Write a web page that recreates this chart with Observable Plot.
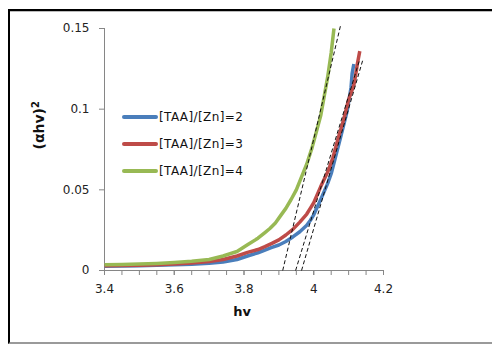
<!DOCTYPE html>
<html>
<head>
<meta charset="utf-8">
<script src="https://cdn.jsdelivr.net/npm/d3@7"></script>
<script src="https://cdn.jsdelivr.net/npm/@observablehq/plot@0.6"></script>
<style>
  html, body { margin: 0; padding: 0; background: #fff; width: 492px; height: 345px; overflow: hidden; }
  #frame { position: absolute; left: 8px; top: 9px; width: 520px; height: 331px;
           border-left: 2.5px solid #000; border-top: 2px solid #000; border-bottom: 2px solid #9a9a9a;
           box-shadow: inset 0 1px 0 #bbb; }
  #chart { position: absolute; left: 0; top: 0; }
  #legend { position: absolute; left: 122px; top: 103px; font-family: "DejaVu Sans", sans-serif; font-size: 12px; letter-spacing: 0.4px; color: #111; }
  #legend .row { height: 27px; display: flex; align-items: center; }
  #legend .sw { display: inline-block; width: 36px; height: 4px; margin-right: 1px; border-radius: 2px; }
</style>
</head>
<body>
<div id="frame"></div>
<div id="chart"></div>
<div id="legend"></div>
<script>
// ---- data ----
const seriesNames = ["[TAA]/[Zn]=2", "[TAA]/[Zn]=3", "[TAA]/[Zn]=4"];
const seriesColors = ["#4a7ebb", "#be4b48", "#98b954"];

const hv2 = [3.40,3.45,3.50,3.55,3.60,3.65,3.70,3.74,3.78,3.81,3.84,3.86,3.88,3.90,3.92,3.94,3.96,3.98,3.99,4.00,4.02,4.04,4.05,4.062,4.077,4.096,4.107,4.11,4.115];
const y2  = [0.0027,0.0028,0.0030,0.0032,0.0035,0.0039,0.0045,0.0053,0.0068,0.0090,0.0110,0.0127,0.0143,0.0158,0.0180,0.0208,0.0240,0.0280,0.0310,0.0345,0.0440,0.0540,0.0600,0.0700,0.0826,0.0990,0.1136,0.1220,0.1280];

const hv3 = [3.40,3.45,3.50,3.55,3.60,3.65,3.70,3.74,3.78,3.81,3.84,3.86,3.88,3.90,3.92,3.94,3.96,3.98,3.99,4.00,4.02,4.04,4.055,4.07,4.085,4.10,4.11,4.115,4.12,4.125,4.132];
const y3  = [0.0030,0.0031,0.0033,0.0036,0.0041,0.0046,0.0055,0.0068,0.0090,0.0112,0.0130,0.0148,0.0168,0.0190,0.0220,0.0255,0.0300,0.0350,0.0385,0.0420,0.0520,0.0610,0.0700,0.0820,0.0930,0.1060,0.1120,0.1150,0.1210,0.1280,0.1360];

const hv4 = [3.40,3.45,3.50,3.55,3.60,3.65,3.70,3.74,3.78,3.81,3.84,3.86,3.875,3.89,3.905,3.92,3.935,3.95,3.965,3.98,3.995,4.01,4.02,4.03,4.04,4.05,4.058];
const y4  = [0.0035,0.0037,0.0040,0.0044,0.0050,0.0057,0.0068,0.0090,0.0118,0.0160,0.0200,0.0235,0.0262,0.0295,0.0340,0.0385,0.0440,0.0500,0.0580,0.0660,0.0760,0.0880,0.0960,0.1080,0.1200,0.1350,0.1500];

// tangent (extrapolation) lines
const tangentX1 = [3.965, 3.948, 3.911];
const tangentX2 = [4.140, 4.132, 4.077];
const tangentY1 = [0, 0, 0];
const tangentY2 = [0.130, 0.131, 0.152];

const xMajorTicks = [3.4, 3.6, 3.8, 4.0, 4.2];
const xMinorTicks = [3.4,3.45,3.5,3.55,3.6,3.65,3.7,3.75,3.8,3.85,3.9,3.95,4.0,4.05,4.1,4.15,4.2];
const yTicks = [0, 0.05, 0.1, 0.15];
const yTickLabels = ["0", "0.05", "0.1", "0.15"];

// ---- build tables ----
const hvs = [hv2, hv3, hv4];
const ys = [y2, y3, y4];
const curves = [];
seriesNames.forEach((name, i) => hvs[i].forEach((h, j) => curves.push({series: name, hv: h, y: ys[i][j]})));
const tangents = tangentX1.map((x, i) => ({x1: x, y1: tangentY1[i], x2: tangentX2[i], y2: tangentY2[i]}));

const font = "DejaVu Sans, sans-serif";
const axisGray = "#868686";

const chart = Plot.plot({
  width: 492,
  height: 345,
  marginLeft: 104,
  marginRight: 109,
  marginTop: 28,
  marginBottom: 75,
  style: {fontFamily: font, fontSize: "12px", color: "#222", background: "transparent", overflow: "visible"},
  x: {domain: [3.4, 4.2]},
  y: {domain: [0, 0.15]},
  color: {domain: seriesNames, range: seriesColors},
  marks: [
    Plot.ruleY([0], {stroke: axisGray, strokeWidth: 1}),
    Plot.ruleX([3.4], {stroke: axisGray, strokeWidth: 1}),
    Plot.axisX(xMinorTicks, {tickSize: 5, tickFormat: () => "", stroke: axisGray, label: null}),
    Plot.axisX(xMajorTicks, {tickSize: 5, tickPadding: 9, tickFormat: d => String(+d.toFixed(1)), stroke: axisGray, fill: "#222", label: null, fontSize: 12, letterSpacing: 0.4}),
    Plot.axisY(yTicks, {tickSize: 5, tickPadding: 10, tickFormat: d => yTickLabels[yTicks.indexOf(d)], stroke: axisGray, fill: "#222", label: null, fontSize: 12, letterSpacing: 0.4}),
    Plot.line(curves, {x: "hv", y: "y", z: "series", stroke: "series", strokeWidth: 3.5, strokeLinejoin: "round", strokeLinecap: "butt"}),
    Plot.link(tangents, {x1: "x1", y1: "y1", x2: "x2", y2: "y2", stroke: "#111", strokeWidth: 1, strokeDasharray: "4,2.5"}),
    Plot.text(["hv"], {frameAnchor: "bottom", dx: -2, dy: 45, fontWeight: "bold", fontSize: 13, fill: "#111"}),
    Plot.text(["(αhv)2"], {frameAnchor: "left", rotate: -90, dx: -65, dy: 0, fontWeight: "bold", fontSize: 14, fill: "#111", className: "ylab"})
  ]
});
document.getElementById("chart").appendChild(chart);

// superscript on the y-axis title
d3.select(chart).selectAll("g.ylab text").each(function() {
  const t = d3.select(this);
  t.text("");
  t.append("tspan").text("(αhv)");
  t.append("tspan").attr("dy", "-0.45em").attr("font-size", "10px").text("2");
});

// legend
const legend = document.getElementById("legend");
seriesNames.forEach((name, i) => {
  const row = document.createElement("div");
  row.className = "row";
  const sw = document.createElement("span");
  sw.className = "sw";
  sw.style.background = seriesColors[i];
  const t = document.createElement("span");
  t.textContent = name;
  row.appendChild(sw);
  row.appendChild(t);
  legend.appendChild(row);
});
</script>
</body>
</html>
